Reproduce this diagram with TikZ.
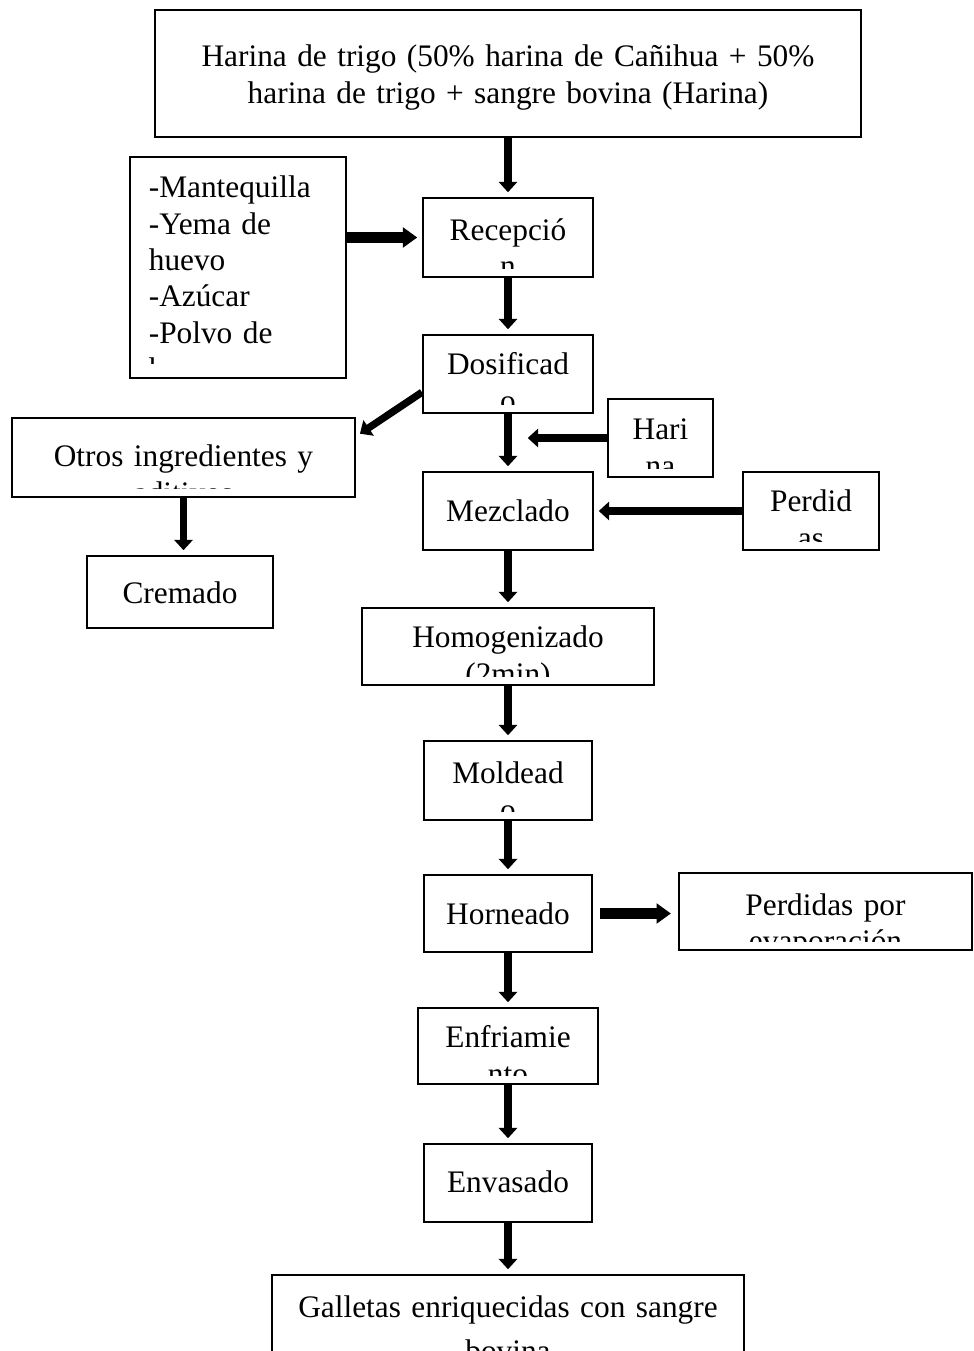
\documentclass[tikz,border=0pt]{standalone}
\usepackage{fontspec}
\setmainfont{Liberation Serif}
\usetikzlibrary{arrows.meta, positioning, fit, calc}

\begin{document}
\begin{tikzpicture}[
  x=0.383pt, y=-0.383pt,
  font=\fontsize{12}{13.9}\selectfont,
  textinset/.initial=3.4pt,
  stepbox/.style={draw, line width=0.8pt, inner sep=0pt},
  boxlabel/.style={anchor=base, align=center, inner sep=0pt},
  boxtext/.style n args={3}{path picture={
      \clip ([yshift=\pgfkeysvalueof{/tikz/textinset}]path picture bounding box.south west)
            rectangle (path picture bounding box.north east);
      \node[boxlabel, text width=#1] at ([yshift=-#2]path picture bounding box.north) {#3};}},
  arrow/.style={-{Triangle[length=4pt, width=7pt]}, line width=2.8pt, shorten >=1.8pt},
  bigarrow/.style={-{Triangle[length=5.5pt, width=7.5pt]}, line width=4.2pt, shorten >=1.8pt}
]
  \useasboundingbox (0,0) rectangle (974,1351);

  % main line
  \node[stepbox, fit={(155,10) (861,137)},
        boxtext={270pt}{21.8pt}{Harina de trigo (50\% harina de Cañihua + 50\%\\harina de trigo + sangre bovina (Harina)}] (mat) {};
  \node[stepbox, fit={(423,198) (593,277)}, boxtext={65pt}{16.1pt}{Recepció\\n}] (rec) {};
  \node[stepbox, fit={(423,335) (593,413)}, boxtext={65pt}{15.3pt}{Dosificad\\o}] (dos) {};
  \node[stepbox, fit={(423,472) (593,550)}, boxtext={65pt}{19.1pt}{Mezclado}] (mez) {};
  \node[stepbox, fit={(362,608) (654,685)}, boxtext={111pt}{15.3pt}{Homogenizado\\(2min)}] (hom) {};
  \node[stepbox, fit={(424,741) (592,820)}, boxtext={64pt}{16.4pt}{Moldead\\o}] (mol) {};
  \node[stepbox, fit={(424,875) (592,952)}, boxtext={64pt}{19.1pt}{Horneado}] (hor) {};
  \node[stepbox, fit={(418,1008) (598,1084)}, boxtext={69pt}{15.3pt}{Enfriamie\\nto}] (enf) {};
  \node[stepbox, fit={(424,1144) (592,1222)}, boxtext={64pt}{18.7pt}{Envasado}] (env) {};
  \node[stepbox, fit={(272,1275) (744,1400)},
        boxtext={180pt}{16.4pt}{Galletas enriquecidas con sangre\\[3pt]bovina}] (gal) {};

  % side boxes
  \node[stepbox, fit={(130,157) (346,378)}, textinset=5.5pt, boxlabel/.append style={align=left},
        boxtext={68.3pt}{15.7pt}{-Mantequilla\\-Yema de\\huevo\\-Azúcar\\-Polvo de\\hornear}] (ing) {};
  \node[stepbox, fit={(12,418) (355,497)}, boxtext={131pt}{18.7pt}{Otros ingredientes y\\aditivos}] (otr) {};
  \node[stepbox, fit={(87,556) (273,628)}, boxtext={71pt}{18pt}{Cremado}] (cre) {};
  \node[stepbox, fit={(608,399) (713,477)}, boxtext={40pt}{15.7pt}{Hari\\na}] (har) {};
  \node[stepbox, fit={(743,472) (879,550)}, boxtext={52pt}{15.3pt}{Perdid\\as}] (per) {};
  \node[stepbox, fit={(679,873) (972,950)}, boxtext={112pt}{16.1pt}{Perdidas por\\evaporación}] (eva) {};

  \coordinate (hin) at ($(dos.south |- har.west)+(15,0)$);

  % connectors
  \draw[arrow] (mat.south) -- (rec.north);
  \draw[arrow] (rec.south) -- (dos.north);
  \draw[arrow] (dos.south) -- (mez.north);
  \draw[arrow] (mez.south) -- (hom.north);
  \draw[arrow] (hom.south) -- (mol.north);
  \draw[arrow] (mol.south) -- (hor.north);
  \draw[arrow] (hor.south) -- (enf.north);
  \draw[arrow] (enf.south) -- (env.north);
  \draw[arrow] (env.south) -- (gal.north);

  \draw[bigarrow] (rec.west -| ing.east) -- (rec.west);
  \draw[arrow] (dos.192) -- (otr.7);
  \draw[arrow] (otr.south) -- (otr.south |- cre.north);
  \draw[arrow] (har.west) -- (hin);
  \draw[arrow] (per.west) -- (mez.east);
  \draw[bigarrow, shorten <=2.7pt, shorten >=2.7pt] (hor.east) -- (hor.east -| eva.west);
\end{tikzpicture}
\end{document}
